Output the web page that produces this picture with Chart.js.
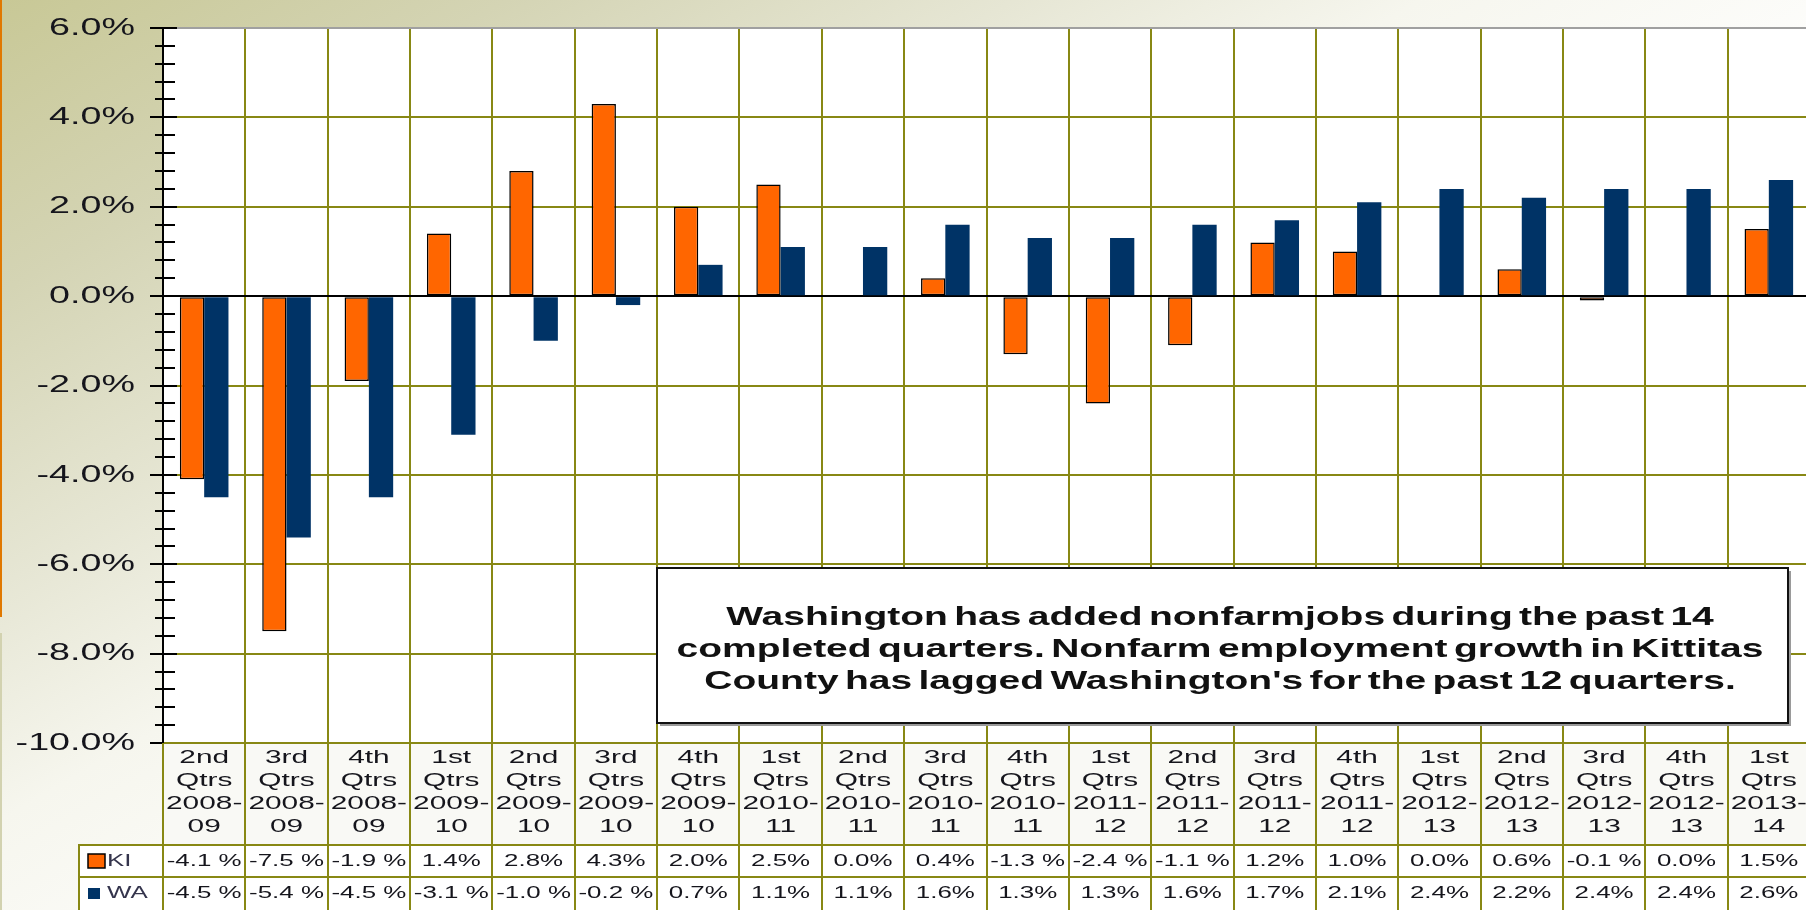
<!DOCTYPE html>
<html>
<head>
<meta charset="utf-8">
<script src="https://cdn.jsdelivr.net/npm/chart.js@4.4.1/dist/chart.umd.min.js"></script>
<style>
  html, body { margin: 0; padding: 0; width: 1806px; height: 910px; overflow: hidden; }
  body {
    background: linear-gradient(150deg, #c8c896 0%, #d4d4b4 15%, #e6e6d4 30%, #f6f6ee 42%, #ffffff 60%);
    position: relative;
  }
  #wrap { position: absolute; left: 0; top: 0; width: 1830px; height: 910px; }
  #edgeA { position: absolute; left: 0; top: 0; width: 2px; height: 617px; background: #e07800; }
  #edgeB { position: absolute; left: 0; top: 633px; width: 2px; height: 277px; background: #d2d2b0; }
</style>
</head>
<body>
<div id="wrap"><canvas id="c" width="1830" height="910"></canvas></div>
<div id="edgeA"></div>
<div id="edgeB"></div>
<script>
// ---------- data ----------
const quarters = ["2nd","3rd","4th","1st","2nd","3rd","4th","1st","2nd","3rd","4th","1st","2nd","3rd","4th","1st","2nd","3rd","4th","1st"];
const yearSpans = [["2008-","09"],["2008-","09"],["2008-","09"],["2009-","10"],["2009-","10"],["2009-","10"],["2009-","10"],["2010-","11"],["2010-","11"],["2010-","11"],["2010-","11"],["2011-","12"],["2011-","12"],["2011-","12"],["2011-","12"],["2012-","13"],["2012-","13"],["2012-","13"],["2012-","13"],["2013-","14"]];
const kiValues = [-4.1,-7.5,-1.9,1.4,2.8,4.3,2.0,2.5,0.0,0.4,-1.3,-2.4,-1.1,1.2,1.0,0.0,0.6,-0.1,0.0,1.5];
const waValues = [-4.5,-5.4,-4.5,-3.1,-1.0,-0.2,0.7,1.1,1.1,1.6,1.3,1.3,1.6,1.7,2.1,2.4,2.2,2.4,2.4,2.6];
const seriesNames = ["KI","WA"];
const yTickMin = -10, yTickMax = 6, yTickStep = 2, yMinorStep = 0.4;
const noteLines = [
  "Washington has added nonfarmjobs during the past 14",
  "completed quarters. Nonfarm employment growth in Kittitas",
  "County has lagged Washington's for the past 12 quarters."
];

const categories = quarters.map((q, i) => [q, "Qtrs", yearSpans[i][0], yearSpans[i][1]]);

// ---------- styles / layout constants ----------
const FAMILY = '"Liberation Sans", Arial, sans-serif';
const OLIVE = '#888814';
const ORANGE = '#ff6600';
const NAVY = '#003366';
const TEXT = '#15151c';
const HEADER_H = 102, ROW_H = 32, LEG_LEFT = 79;
const NOTE = { left: 657, top: 568, width: 1131, height: 155, cx: 1220, cy: 650, lh: 32 };

// ---------- horizontally widened text (as in the reference) ----------
const canvas = document.getElementById('c');
const ctx = canvas.getContext('2d');
let SX = 1.57;
const origFill = ctx.fillText.bind(ctx);
const origMeasure = ctx.measureText.bind(ctx);
ctx.fillText = function (t, x, y, mw) {
  this.save();
  this.translate(x, y);
  this.scale(SX, 1);
  if (mw === undefined || mw === null) origFill(t, 0, 0);
  else origFill(t, 0, 0, mw / SX);
  this.restore();
};
ctx.measureText = function (t) {
  const m = origMeasure(t);
  return {
    width: m.width * SX,
    actualBoundingBoxAscent: m.actualBoundingBoxAscent,
    actualBoundingBoxDescent: m.actualBoundingBoxDescent,
    actualBoundingBoxLeft: m.actualBoundingBoxLeft * SX,
    actualBoundingBoxRight: m.actualBoundingBoxRight * SX
  };
};

function fmtVal(v) {
  return v < 0 ? v.toFixed(1) + ' %' : v.toFixed(1) + '%';
}

// ---------- plugins ----------
const bgPlugin = {
  id: 'bg',
  beforeDraw(chart) {
    const { ctx, chartArea: a } = chart;
    ctx.save();
    ctx.fillStyle = '#ffffff';
    ctx.fillRect(a.left, a.top, a.right - a.left, a.bottom - a.top);
    ctx.fillStyle = '#f9f9f5';
    ctx.fillRect(a.left, a.bottom, a.right - a.left, HEADER_H);
    ctx.fillStyle = '#ffffff';
    ctx.fillRect(LEG_LEFT, a.bottom + HEADER_H, a.right - LEG_LEFT, ROW_H * 2 + 10);
    ctx.restore();
  }
};

const tablePlugin = {
  id: 'table',
  afterDraw(chart) {
    const { ctx, chartArea: a, scales: { x, y } } = chart;
    const n = chart.data.labels.length;
    const cw = x.getPixelForTick(1) - x.getPixelForTick(0);
    const top = a.bottom, hBot = top + HEADER_H, r1 = hBot + ROW_H, r2 = r1 + ROW_H;

    ctx.save();
    // y-axis major and minor tick marks
    ctx.strokeStyle = '#000';
    ctx.lineWidth = 2;
    ctx.beginPath();
    const steps = Math.round((yTickMax - yTickMin) / yMinorStep);
    const perMajor = Math.round(yTickStep / yMinorStep);
    for (let k = 0; k <= steps; k++) {
      const v = (yTickMin * 10 + k * yMinorStep * 10) / 10;
      const py = Math.round(y.getPixelForValue(v));
      if (k % perMajor === 0) {
        ctx.moveTo(a.left - 13, py);
        ctx.lineTo(k === 0 ? a.left : a.left + 14, py);
      } else {
        ctx.moveTo(a.left - 8, py);
        ctx.lineTo(a.left + 12, py);
      }
    }
    ctx.stroke();

    // table grid
    ctx.strokeStyle = OLIVE;
    ctx.lineWidth = 2;
    ctx.beginPath();
    for (let i = 0; i <= n; i++) {
      const px = Math.round(i < n ? x.getPixelForTick(i) - cw / 2 : x.getPixelForTick(n - 1) + cw / 2);
      ctx.moveTo(px, top);
      ctx.lineTo(px, r2 + 10);
    }
    ctx.moveTo(LEG_LEFT, hBot - 1); ctx.lineTo(LEG_LEFT, r2 + 10);
    ctx.moveTo(LEG_LEFT, hBot); ctx.lineTo(a.right, hBot);
    ctx.moveTo(LEG_LEFT, r1); ctx.lineTo(a.right, r1);
    ctx.stroke();

    // values
    ctx.font = '16.5px ' + FAMILY;
    ctx.fillStyle = TEXT;
    ctx.textAlign = 'center';
    ctx.textBaseline = 'middle';
    chart.data.datasets.forEach((ds, d) => {
      const cy = hBot + ROW_H * d + ROW_H / 2;
      ds.data.forEach((v, i) => {
        ctx.fillText(fmtVal(v), x.getPixelForTick(i), cy);
      });
    });

    // legend keys
    chart.data.datasets.forEach((ds, d) => {
      const cy = hBot + ROW_H * d + ROW_H / 2;
      if (d === 0) {
        ctx.fillStyle = ds.backgroundColor;
        ctx.fillRect(88, cy - 7, 17, 14);
        ctx.strokeStyle = '#000';
        ctx.lineWidth = 1.5;
        ctx.strokeRect(88, cy - 7, 17, 14);
      } else {
        ctx.fillStyle = ds.backgroundColor;
        ctx.fillRect(88, cy - 5, 12, 11);
      }
      ctx.fillStyle = '#34344c';
      ctx.textAlign = 'left';
      ctx.fillText(ds.label, 107, cy);
    });

    // annotation box
    ctx.fillStyle = '#9a9a9a';
    ctx.fillRect(NOTE.left + 3, NOTE.top + 3, NOTE.width, NOTE.height);
    ctx.fillStyle = '#ffffff';
    ctx.fillRect(NOTE.left, NOTE.top, NOTE.width, NOTE.height);
    ctx.strokeStyle = '#111';
    ctx.lineWidth = 2;
    ctx.strokeRect(NOTE.left, NOTE.top, NOTE.width, NOTE.height);

    const oldSX = SX;
    SX = 1.5;
    ctx.font = 'bold 26px ' + FAMILY;
    try { ctx.wordSpacing = '-3px'; } catch (e) {}
    ctx.fillStyle = '#111';
    ctx.textAlign = 'center';
    ctx.textBaseline = 'middle';
    noteLines.forEach((line, i) => {
      ctx.fillText(line, NOTE.cx, NOTE.cy + (i - 1) * NOTE.lh);
    });
    try { ctx.wordSpacing = '0px'; } catch (e) {}
    SX = oldSX;
    ctx.restore();
  }
};

// ---------- chart ----------
new Chart(ctx, {
  type: 'bar',
  data: {
    labels: categories,
    datasets: [
      { label: seriesNames[0], data: kiValues, backgroundColor: ORANGE, borderColor: '#000', borderWidth: 1.5, borderSkipped: false, categoryPercentage: 0.59, barPercentage: 1.0 },
      { label: seriesNames[1], data: waValues, backgroundColor: NAVY, borderWidth: 0, categoryPercentage: 0.59, barPercentage: 1.0 }
    ]
  },
  options: {
    responsive: false,
    maintainAspectRatio: false,
    animation: false,
    devicePixelRatio: 1,
    layout: { padding: { top: 28, right: 20, left: 0, bottom: 0 } },
    plugins: { legend: { display: false }, tooltip: { enabled: false } },
    scales: {
      x: {
        grid: { color: OLIVE, lineWidth: 2, drawTicks: false, offset: true },
        border: { color: OLIVE, width: 2 },
        ticks: { font: { family: FAMILY, size: 19, lineHeight: 1.21 }, color: TEXT, padding: 3, maxRotation: 0, minRotation: 0, autoSkip: false },
        afterFit: s => { s.height = 167; s.paddingLeft = 0; s.paddingRight = 0; }
      },
      y: {
        min: yTickMin, max: yTickMax,
        ticks: { stepSize: yTickStep, callback: v => Number(v).toFixed(1) + '%', font: { family: FAMILY, size: 24 }, color: TEXT, padding: 28 },
        grid: {
          lineWidth: 2, drawTicks: false,
          color: c => (c.tick && c.tick.value === 0) ? '#000000' : (c.tick && c.tick.value === yTickMax) ? '#a0a0a0' : OLIVE
        },
        border: { color: '#000', width: 2 },
        afterFit: s => { s.width = 163; s.paddingTop = 0; s.paddingBottom = 0; }
      }
    }
  },
  plugins: [bgPlugin, tablePlugin]
});
</script>
</body>
</html>
